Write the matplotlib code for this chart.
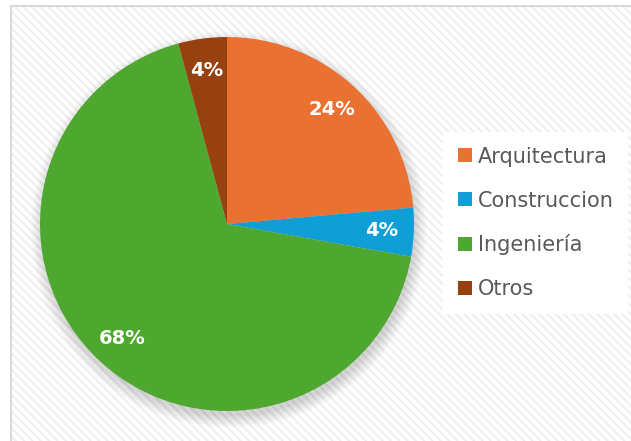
import matplotlib
matplotlib.use('Agg')

import numpy as np
import matplotlib.pyplot as plt
from matplotlib.patches import Rectangle, Circle

################# Data #####################################################
labels = ['Arquitectura', 'Construccion', 'Ingeniería', 'Otros']
shares = [23.6, 4.2, 68.0, 4.2]
colors = ['#E97132', '#0F9ED5', '#4EA72E', '#974010']
############################################################################

W, H = 631, 441
plt.rcParams['hatch.linewidth'] = 1.5
fig = plt.figure(figsize=(W/100., H/100.), dpi=100)

# chart area: hatched background with a thin gray border (left/top)
bg = Rectangle((11./W, -0.05), 1.1, 1 - 6./H + 0.05, transform=fig.transFigure,
               facecolor='white', edgecolor='#d9d9d9', lw=1.5, zorder=-2)
fig.patches.append(bg)
hatch = Rectangle((12./W, -0.05), 1.1, 1 - 7./H + 0.05, transform=fig.transFigure,
                  facecolor='none', edgecolor='#efefef', hatch='\\\\\\\\', lw=0, zorder=-1)
fig.patches.append(hatch)

# pie axes, centre (227,224) px, radius 187 px
cx, cy, r = 227, 224, 187
ax = fig.add_axes([(cx - r)/W, (H - cy - r)/H, 2*r/W, 2*r/H])
ax.set_aspect('equal')
ax.axis('off')

# soft shadow below the pie
n = 14
for k in range(n):
    ax.add_patch(Circle((0.01, -0.03), 0.99 + 0.005*(n - k), facecolor='black',
                        alpha=0.012, lw=0, zorder=1, clip_on=False))

wedges, texts, autotexts = ax.pie(shares, colors=colors, startangle=90, counterclock=False,
                                  autopct='%.0f%%', pctdistance=0.83, radius=1.0,
                                  wedgeprops=dict(lw=0),
                                  textprops=dict(color='white', fontsize=14, fontweight='bold'))
for w in wedges:
    w.set_zorder(2)
for t in autotexts:
    t.set_zorder(3)
ax.set_xlim(-1, 1)
ax.set_ylim(-1, 1)

leg = fig.legend(wedges, labels, loc='center left', bbox_to_anchor=(443./W, 1 - 223./H),
                 fontsize=15, frameon=True, facecolor='white', edgecolor='none', framealpha=1,
                 fancybox=False, handlelength=0.67, handleheight=0.67, handletextpad=0.3,
                 labelspacing=1.15, borderpad=0.7, borderaxespad=0)
for t in leg.get_texts():
    t.set_color('#595959')

fig.savefig('out.png', dpi=100)
